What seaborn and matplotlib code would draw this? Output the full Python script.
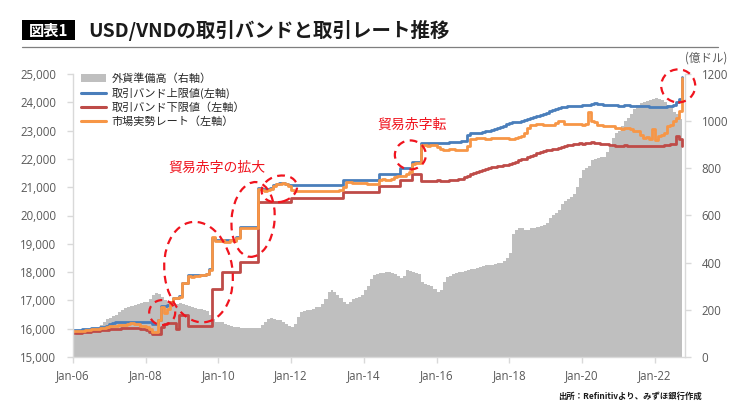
import matplotlib
matplotlib.use("Agg")
import matplotlib.pyplot as plt
import matplotlib.dates as mdates
import matplotlib.ticker as mticker
from matplotlib.patches import Ellipse, Patch, Rectangle
from matplotlib.lines import Line2D
from matplotlib.transforms import ScaledTranslation
import pandas as pd
import seaborn as sns

# ── data (monthly, Jan-2006 .. Oct-2022) ─────────────────────────────────────
months = pd.date_range("2006-01-01", "2022-10-01", freq="MS")

upper_band = [
    15960, 15960, 15970, 15980, 15990, 16000, 16010, 16020, 16030, 16050, 16060, 16080,  # 2006
    16150, 16200, 16220, 16230, 16240, 16240, 16240, 16240, 16240, 16240, 16240, 16240,  # 2007
    16240, 16240, 16150, 16150, 16300, 16800, 16800, 16830, 16950, 17080, 17100, 17150,  # 2008
    17600, 17600, 17880, 17880, 17880, 17880, 17880, 17900, 17920, 18100, 19200, 19150,  # 2009
    19150, 19150, 19150, 19150, 19150, 19150, 19250, 19600, 19600, 19600, 19600, 19600,  # 2010
    19600, 20970, 20950, 20950, 20950, 20970, 21070, 21120, 21150, 21150, 21120, 21070,  # 2011
    21070, 21070, 21070, 21070, 21070, 21070, 21070, 21070, 21070, 21070, 21070, 21070,  # 2012
    21070, 21070, 21070, 21070, 21070, 21250, 21250, 21250, 21250, 21250, 21250, 21250,  # 2013
    21250, 21250, 21250, 21250, 21250, 21460, 21460, 21460, 21460, 21460, 21460, 21460,  # 2014
    21670, 21670, 21670, 21670, 21890, 21890, 21890, 22550, 22550, 22550, 22550, 22550,  # 2015
    22560, 22550, 22560, 22560, 22580, 22600, 22600, 22600, 22620, 22650, 22850, 22900,  # 2016
    22900, 22900, 22920, 22950, 22980, 23000, 23030, 23060, 23100, 23130, 23170, 23220,  # 2017
    23270, 23290, 23300, 23320, 23350, 23380, 23420, 23450, 23480, 23520, 23550, 23580,  # 2018
    23620, 23680, 23720, 23760, 23800, 23820, 23850, 23860, 23870, 23880, 23880, 23880,  # 2019
    23900, 23900, 23920, 23950, 23960, 23950, 23940, 23920, 23920, 23900, 23900, 23890,  # 2020
    23880, 23880, 23900, 23900, 23880, 23860, 23860, 23860, 23880, 23860, 23850, 23850,  # 2021
    23840, 23840, 23850, 23850, 23870, 23880, 23900, 24000, 24120, 24900,                # 2022
]

lower_band = [
    15850, 15850, 15860, 15870, 15880, 15900, 15910, 15920, 15930, 15940, 15950, 15960,  # 2006
    15980, 15990, 16000, 16000, 16010, 16020, 16030, 16040, 16040, 16020, 16000, 15990,  # 2007
    15950, 15900, 15820, 15800, 15820, 16050, 16150, 16200, 16200, 16200, 16000, 16480,  # 2008
    16480, 16480, 16100, 16100, 16100, 16100, 16100, 16100, 16100, 16100, 17420, 17420,  # 2009
    17420, 17990, 17990, 17990, 17990, 17990, 17990, 18360, 18360, 18360, 18360, 18360,  # 2010
    18360, 20490, 20490, 20490, 20490, 20490, 20490, 20490, 20490, 20490, 20490, 20490,  # 2011
    20620, 20620, 20620, 20620, 20620, 20620, 20620, 20620, 20620, 20620, 20620, 20620,  # 2012
    20620, 20620, 20620, 20620, 20620, 20830, 20830, 20830, 20830, 20830, 20830, 20830,  # 2013
    20830, 20830, 20830, 20830, 20830, 21030, 21030, 21030, 21030, 21030, 21030, 21030,  # 2014
    21240, 21240, 21240, 21240, 21450, 21450, 21450, 21230, 21230, 21230, 21230, 21230,  # 2015
    21240, 21230, 21220, 21230, 21250, 21260, 21270, 21280, 21300, 21350, 21400, 21450,  # 2016
    21500, 21540, 21580, 21620, 21650, 21680, 21700, 21720, 21740, 21760, 21780, 21800,  # 2017
    21820, 21850, 21900, 21950, 21980, 22000, 22050, 22100, 22150, 22200, 22250, 22280,  # 2018
    22300, 22320, 22340, 22360, 22380, 22420, 22450, 22480, 22500, 22520, 22540, 22560,  # 2019
    22540, 22550, 22560, 22580, 22560, 22550, 22540, 22530, 22520, 22500, 22480, 22470,  # 2020
    22460, 22470, 22480, 22470, 22460, 22470, 22460, 22450, 22460, 22450, 22440, 22450,  # 2021
    22440, 22450, 22460, 22480, 22500, 22520, 22540, 22820, 22700, 22450,                # 2022
]

market_rate = [
    15910, 15910, 15920, 15930, 15940, 15960, 15980, 15990, 16000, 16020, 16040, 16060,  # 2006
    16080, 16100, 16110, 16120, 16130, 16140, 16160, 16200, 16180, 16150, 16100, 16080,  # 2007
    16050, 16000, 15900, 15880, 16300, 16780, 16550, 16700, 16950, 17080, 17100, 17120,  # 2008
    17600, 17600, 17850, 17830, 17850, 17860, 17880, 17900, 17950, 18080, 19250, 19100,  # 2009
    19100, 19120, 19080, 19050, 19120, 19100, 19200, 19550, 19560, 19560, 19560, 19560,  # 2010
    19560, 20950, 20900, 20850, 20900, 20950, 21050, 21100, 21120, 21150, 21100, 21050,  # 2011
    20900, 20880, 20870, 20860, 20880, 20860, 20850, 20860, 20880, 20870, 20860, 20850,  # 2012
    20860, 20860, 20880, 20880, 20900, 21000, 21180, 21180, 21150, 21160, 21150, 21160,  # 2013
    21150, 21130, 21100, 21100, 21130, 21250, 21300, 21250, 21250, 21300, 21350, 21400,  # 2014
    21400, 21380, 21450, 21550, 21820, 21850, 21860, 22480, 22500, 22450, 22480, 22500,  # 2015
    22420, 22350, 22320, 22320, 22350, 22340, 22300, 22300, 22310, 22320, 22450, 22700,  # 2016
    22720, 22750, 22750, 22730, 22720, 22720, 22730, 22730, 22730, 22730, 22730, 22740,  # 2017
    22700, 22700, 22750, 22780, 22800, 22900, 23100, 23200, 23200, 23250, 23250, 23200,  # 2018
    23200, 23200, 23200, 23280, 23350, 23350, 23250, 23250, 23250, 23250, 23230, 23220,  # 2019
    23200, 23250, 23650, 23350, 23300, 23200, 23200, 23180, 23180, 23170, 23170, 23100,  # 2020
    23080, 23050, 23100, 23100, 23050, 23000, 23000, 22850, 22750, 22780, 22700, 23050,  # 2021
    22680, 22800, 22850, 22900, 23150, 23200, 23350, 23450, 23700, 24850,                # 2022
]

reserves = [  # 億ドル, right axis
    95, 97, 100, 102, 105, 108, 112, 118, 125, 135, 148, 160,              # 2006
    165, 172, 180, 190, 200, 208, 212, 218, 222, 225, 228, 232,            # 2007
    235, 245, 262, 272, 268, 255, 240, 232, 230, 228, 225, 228,            # 2008
    225, 220, 215, 210, 208, 205, 205, 200, 195, 180, 160, 150,            # 2009
    150, 148, 140, 135, 130, 128, 126, 125, 125, 124, 124, 123,            # 2010
    123, 125, 135, 150, 162, 165, 160, 158, 155, 150, 140, 132,            # 2011
    127, 140, 170, 191, 195, 198, 200, 205, 210, 212, 225, 245,            # 2012
    275, 282, 275, 265, 250, 235, 225, 232, 245, 250, 255, 262,            # 2013
    285, 300, 330, 348, 352, 355, 358, 360, 360, 358, 352, 345,            # 2014
    335, 345, 368, 365, 362, 355, 350, 320, 310, 305, 300, 290,            # 2015
    275, 285, 320, 340, 345, 350, 355, 360, 362, 365, 368, 372,            # 2016
    375, 378, 382, 385, 388, 390, 392, 396, 398, 400, 405, 420,            # 2017
    440, 520, 540, 545, 545, 540, 540, 545, 548, 550, 555, 560,            # 2018
    570, 590, 600, 610, 625, 650, 660, 670, 680, 690, 720, 760,            # 2019
    793, 800, 810, 835, 840, 845, 848, 850, 870, 890, 930, 950,            # 2020
    960, 980, 1000, 1013, 1030, 1050, 1070, 1077, 1080, 1085, 1090, 1095,  # 2021
    1098, 1095, 1090, 1080, 1070, 1060, 1040, 1030, 1010, 1000,            # 2022
]

legend_labels = ["外貨準備高（右軸）", "取引バンド上限値(左軸)", "取引バンド下限値（左軸）", "市場実勢レート（左軸）"]

# dashed call-out rings: (centre date, centre VND, width px, height px, angle)
rings = [
    ("2008-06-15", 16570, 26, 25, 0),
    ("2009-06-15", 18000, 68, 101, 8),
    ("2010-12-15", 19860, 43, 75, -5),
    ("2011-09-05", 20940, 36, 26, 15),
    ("2015-04-13", 22140, 31, 29, 0),
    ("2022-08-25", 24580, 34, 33, 0),
]
notes = [("2009-12-15", 21680, "貿易赤字の拡大"), ("2015-04-25", 23200, "貿易赤字転")]

df = pd.DataFrame({"date": months, "upper": upper_band, "lower": lower_band,
                   "market": market_rate, "reserves": reserves})

BLUE, RED, ORANGE, GRAY = "#4A7EBB", "#BE4B48", "#F79646", "#BFBFBF"
TICK = "#595959"
RING = "#F0141E"

sns.set_theme(style="white")
plt.rcParams["font.family"] = ["Noto Sans CJK JP", "DejaVu Sans"]

W, H = 740, 412
fig = plt.figure(figsize=(W / 100, H / 100), dpi=100)
ax = fig.add_axes([73 / W, 1 - 357 / H, (685 - 73) / W, (357 - 74) / H])
ax2 = ax.twinx()
ax.set_zorder(ax2.get_zorder() + 1)
ax.patch.set_visible(False)

# reserves as grey area on the right axis
ax2.fill_between(df["date"], df["reserves"], step="post", color=GRAY, lw=0)

for col, c in [("upper", BLUE), ("lower", RED), ("market", ORANGE)]:
    sns.lineplot(data=df, x="date", y=col, ax=ax, color=c, lw=2.0,
                 drawstyle="steps-post", legend=False)

ax.set_xlim(pd.Timestamp("2006-01-01"), pd.Timestamp("2022-11-01"))
ax.set_ylim(15000, 25000)
ax2.set_ylim(0, 1200)
ax.set_xlabel("")
ax.set_ylabel("")

ax.yaxis.set_major_locator(mticker.MultipleLocator(1000))
ax.yaxis.set_major_formatter(mticker.FuncFormatter(lambda v, _: f"{v:,.0f}"))
ax2.yaxis.set_major_locator(mticker.MultipleLocator(200))
ax.xaxis.set_major_locator(mdates.YearLocator(2, month=1, day=1))
ax.xaxis.set_major_formatter(mdates.DateFormatter("Jan-%y"))

for a in (ax, ax2):
    for s in a.spines.values():
        s.set_visible(False)
    a.grid(False)
for a, side in [(ax, "left"), (ax, "bottom"), (ax2, "right")]:
    a.spines[side].set_visible(True)
    a.spines[side].set_color("#D9D9D9")
    a.spines[side].set_linewidth(1.0)
ax.tick_params(axis="y", left=True, length=4, width=1, color="#D9D9D9", pad=8,
               labelsize=8.3, labelcolor=TICK)
ax.tick_params(axis="x", bottom=True, length=4, width=1, color="#D9D9D9", pad=5,
               labelsize=8.3, labelcolor=TICK)
ax2.tick_params(axis="y", right=True, length=4, width=1, color="#D9D9D9", pad=8,
                labelsize=8.3, labelcolor=TICK)
for lab in ax.get_xticklabels() + ax.get_yticklabels() + ax2.get_yticklabels():
    lab.set_family(["Open Sans", "DejaVu Sans"])

# call-out rings sized in pixels, anchored at data positions
for d, v, w, h, ang in rings:
    tr = fig.dpi_scale_trans + ScaledTranslation(mdates.date2num(pd.Timestamp(d)), v, ax.transData)
    ax.add_patch(Ellipse((0, 0), w / 100, h / 100, angle=ang, transform=tr, fill=False,
                         ec=RING, lw=1.6, ls=(0, (3.5, 2.5)), zorder=5, clip_on=False))
for d, v, t in notes:
    ax.text(pd.Timestamp(d), v, t, color=RING, fontsize=10, ha="center", va="center")

handles = [Patch(facecolor=GRAY, edgecolor="none"),
           Line2D([], [], color=BLUE, lw=2.2),
           Line2D([], [], color=RED, lw=2.2),
           Line2D([], [], color=ORANGE, lw=2.2)]
leg = ax.legend(handles, legend_labels, loc="upper left", bbox_to_anchor=(0.0, 1.03),
                frameon=False, fontsize=8, handlelength=2.3, handletextpad=0.45,
                labelspacing=0.32, borderaxespad=0.3)
for t in leg.get_texts():
    t.set_color("#262626")

# title block
fig.add_artist(Rectangle((22 / W, 1 - 40 / H), 53 / W, 20 / H, transform=fig.transFigure,
                         facecolor="black", edgecolor="none"))
fig.text(48.5 / W, 1 - 30.5 / H, "図表1", color="white", fontsize=11, fontweight="bold",
         ha="center", va="center")
fig.text(88 / W, 1 - 30.5 / H, "USD/VNDの取引バンドと取引レート推移", color="#1A1A1A",
         fontsize=14, fontweight="bold", ha="left", va="center")
fig.add_artist(Line2D([22 / W, 718 / W], [1 - 47 / H] * 2, transform=fig.transFigure,
                      color="#7F7F7F", lw=0.9))

fig.text(706 / W, 1 - 58 / H, "(億ドル)", color=TICK, fontsize=8.3, ha="center", va="center")
fig.text(702 / W, 1 - 396 / H, "出所：Refinitivより、みずほ銀行作成", color="#1A1A1A",
         fontsize=6, fontweight="bold", ha="right", va="center")

fig.savefig("out.png", dpi=100)
